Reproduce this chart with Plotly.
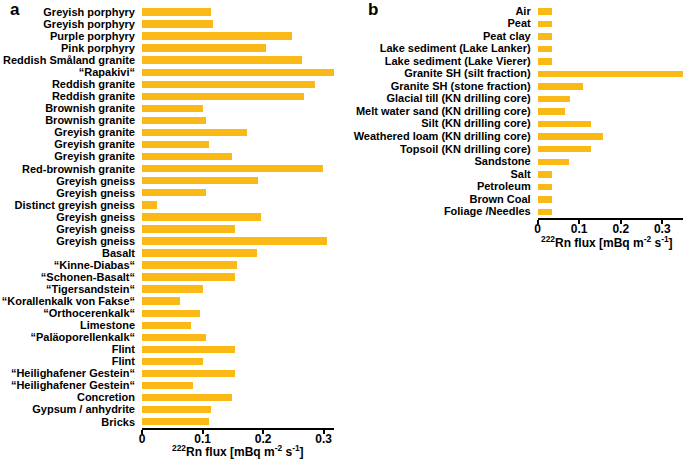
import plotly.graph_objects as go

labels_a = ["Greyish porphyry", "Greyish porphyry", "Purple porphyry", "Pink porphyry",
            "Reddish Småland granite", "“Rapakivi“", "Reddish granite", "Reddish granite",
            "Brownish granite", "Brownish granite", "Greyish granite", "Greyish granite",
            "Greyish granite", "Red-brownish granite", "Greyish gneiss", "Greyish gneiss",
            "Distinct greyish gneiss", "Greyish gneiss", "Greyish gneiss", "Greyish gneiss",
            "Basalt", "“Kinne-Diabas“", "“Schonen-Basalt“", "“Tigersandstein“",
            "“Korallenkalk von Fakse“", "“Orthocerenkalk“", "Limestone", "“Paläoporellenkalk“",
            "Flint", "Flint", "“Heilighafener Gestein“", "“Heilighafener Gestein“",
            "Concretion", "Gypsum / anhydrite", "Bricks"]
values_a = [0.114, 0.118, 0.248, 0.204, 0.264, 0.320, 0.285, 0.268, 0.101, 0.106,
            0.174, 0.110, 0.148, 0.299, 0.192, 0.106, 0.024, 0.196, 0.153, 0.305,
            0.190, 0.157, 0.154, 0.101, 0.063, 0.096, 0.081, 0.106, 0.154, 0.101,
            0.154, 0.084, 0.149, 0.114, 0.110]

labels_b = ["Air", "Peat", "Peat clay", "Lake sediment (Lake Lanker)", "Lake sediment (Lake Vierer)",
            "Granite SH (silt fraction)", "Granite SH (stone fraction)",
            "Glacial till (KN drilling core)", "Melt water sand (KN drilling core)",
            "Silt (KN drilling core)", "Weathered loam (KN drilling core)",
            "Topsoil (KN drilling core)", "Sandstone", "Salt", "Petroleum", "Brown Coal",
            "Foliage /Needles"]
values_b = [0.034, 0.034, 0.034, 0.034, 0.034, 0.352, 0.108, 0.078, 0.064, 0.128,
            0.157, 0.127, 0.074, 0.034, 0.034, 0.034, 0.034]

x_ticks = [0, 0.1, 0.2, 0.3]
x_title = "<sup>222</sup>Rn flux [mBq m<sup>-2</sup> s<sup>-1</sup>]"

BAR = "#FBB917"
FONT = "Liberation Sans"
W, H = 685, 460

fig = go.Figure()
fig.add_trace(go.Bar(x=values_a, y=list(range(len(labels_a))), orientation="h",
                     marker=dict(color=BAR, line=dict(width=0)), width=0.62,
                     xaxis="x", yaxis="y", showlegend=False))
fig.add_trace(go.Bar(x=values_b, y=list(range(len(labels_b))), orientation="h",
                     marker=dict(color=BAR, line=dict(width=0)), width=0.52,
                     xaxis="x2", yaxis="y2", showlegend=False))

tickfont = dict(family=FONT, size=11, color="black", weight="bold")
xcommon = dict(showgrid=False, zeroline=False, showline=True, linecolor="black", linewidth=1.6,
               ticks="outside", ticklen=4, tickwidth=1.6, tickcolor="black",
               tickvals=x_ticks, ticktext=[str(v) if v else "0" for v in x_ticks],
               tickfont=dict(family=FONT, size=12, color="black", weight="bold"),
               automargin=False, ticklabelstandoff=-5)
ycommon = dict(showgrid=False, zeroline=False, showline=False, ticks="",
               tickfont=tickfont, ticklabelstandoff=6, automargin=False)

title_font = dict(family=FONT, size=12, color="black", weight="bold")
dom_a = [142 / W, 334 / W]
dom_b = [537.7 / W, 683 / W]

fig.update_layout(
    width=W, height=H, margin=dict(l=0, r=0, t=0, b=0),
    plot_bgcolor="white", paper_bgcolor="white", bargap=0,
    xaxis=dict(domain=dom_a, range=[0, 0.317], anchor="y", **xcommon),
    yaxis=dict(domain=[1 - 427.7 / H, 1 - 6 / H], range=[len(labels_a) - 0.5, -0.5],
               tickvals=list(range(len(labels_a))), ticktext=labels_a, anchor="x", **ycommon),
    xaxis2=dict(domain=dom_b, range=[0, 0.35], anchor="y2", **xcommon),
    yaxis2=dict(domain=[1 - 217.7 / H, 1 - 4.5 / H], range=[len(labels_b) - 0.5, -0.5],
                tickvals=list(range(len(labels_b))), ticktext=labels_b, anchor="x2", **ycommon),
    annotations=[
        dict(text="a", x=8 / W, y=1 - 10 / H, xref="paper", yref="paper", showarrow=False,
             xanchor="left", yanchor="middle",
             font=dict(family=FONT, size=17, color="black", weight="bold")),
        dict(text="b", x=366 / W, y=1 - 10 / H, xref="paper", yref="paper", showarrow=False,
             xanchor="left", yanchor="middle",
             font=dict(family=FONT, size=17, color="black", weight="bold")),
        dict(text=x_title, x=sum(dom_a) / 2, y=1 - 451 / H, xref="paper", yref="paper",
             showarrow=False, xanchor="center", yanchor="middle", font=title_font),
        dict(text=x_title, x=sum(dom_b) / 2 - 3 / W, y=1 - 242 / H, xref="paper", yref="paper",
             showarrow=False, xanchor="center", yanchor="middle", font=title_font),
    ],
)

fig.write_html("out.html", config={"displayModeBar": False},
               post_script="document.body.style.margin='0';")
